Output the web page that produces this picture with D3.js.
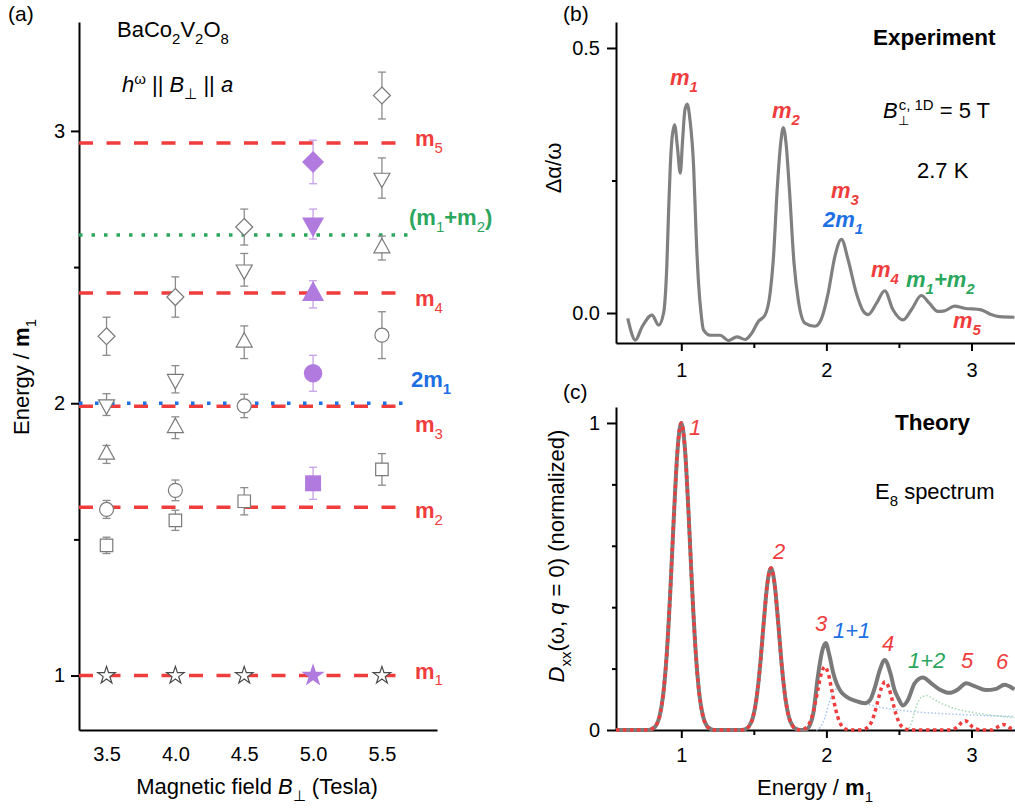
<!DOCTYPE html>
<html>
<head>
<meta charset="utf-8">
<script src="https://cdn.jsdelivr.net/npm/d3@7"></script>
<style>
body { margin: 0; background: #fff; }
svg { font-family: Arial, "Liberation Sans", sans-serif; }
</style>
</head>
<body>
<script>
// ---- panel (a): mode energies vs field ----
const fields = [3.5, 4.0, 4.5, 5.0, 5.5];
const highlightField = 5.0;
const starEnergy = [1, 1, 1, 1, 1];
const squareEnergy = [1.478, 1.57, 1.64, 1.706, 1.757];
const squareError = [0.03, 0.037, 0.05, 0.059, 0.058];
const circleEnergy = [1.61, 1.68, 1.99, 2.11, 2.25];
const circleError = [0.033, 0.038, 0.043, 0.066, 0.086];
const upEnergy = [1.812, 1.91, 2.224, 2.40, 2.57];
const upError = [0.033, 0.04, 0.06, 0.05, 0.044];
const downEnergy = [1.995, 2.088, 2.49, 2.658, 2.827];
const downError = [0.04, 0.05, 0.06, 0.055, 0.074];
const diamondEnergy = [2.246, 2.39, 2.647, 2.886, 3.13];
const diamondError = [0.07, 0.074, 0.066, 0.08, 0.086];

const modeNames = ["1", "2", "3", "4", "5"];
const modeEnergy = [1, 1.618, 1.989, 2.405, 2.956];
const twoM1Energy = 2.0;
const m1m2Energy = 2.618;
const lineEndField = 5.62;
const dotEndField = 5.7;

const fieldTicks = [3.5, 4.0, 4.5, 5.0, 5.5];
const energyTicksA = [1, 2, 3];
const energyMinorA = [1.5, 2.5];

// ---- panel (b): experiment ----
const expEnergy = [
  0.631, 0.684, 0.730, 0.798, 0.844, 0.878, 0.888, 0.900, 0.912, 0.924,
  0.935, 0.954, 0.973, 0.993, 1.009, 1.025, 1.041, 1.060, 1.085, 1.102,
  1.119, 1.136, 1.153, 1.199, 1.268, 1.325, 1.383, 1.440, 1.486, 1.531,
  1.577, 1.612, 1.634, 1.662, 1.685, 1.703, 1.722, 1.744, 1.777, 1.806,
  1.852, 1.921, 1.967, 2.012, 2.058, 2.104, 2.150, 2.207, 2.253, 2.287,
  2.345, 2.402, 2.459, 2.528, 2.586, 2.654, 2.711, 2.768, 2.814, 2.883,
  2.952, 3.067, 3.135, 3.192, 3.296];
const expSignal = [
  -0.010, -0.051, -0.026, -0.004, -0.023, 0.000, 0.025, 0.087, 0.188, 0.276,
  0.326, 0.355, 0.314, 0.264, 0.326, 0.383, 0.394, 0.364, 0.276, 0.150,
  0.056, 0.000, -0.032, -0.042, -0.042, -0.052, -0.045, -0.050, -0.038, -0.016,
  -0.004, 0.037, 0.100, 0.238, 0.320, 0.350, 0.320, 0.238, 0.094, 0.025,
  -0.019, -0.025, -0.010, 0.037, 0.106, 0.139, 0.100, 0.037, 0.004, -0.003,
  0.018, 0.042, 0.006, -0.013, 0.006, 0.033, 0.018, 0.003, 0.004, 0.013,
  0.009, 0.006, -0.003, -0.007, -0.008];
const energyTicks = [1, 2, 3];
const energyMinor = [1.5, 2.5];
const signalTicks = [0, 0.5];
const signalMinor = [0.25];

// ---- panel (c): theory ----
const totalEnergy = [
  0.55, 0.775, 0.8, 0.825, 0.85, 0.875, 0.9, 0.925, 0.95, 0.975,
  1.0, 1.025, 1.05, 1.075, 1.1, 1.125, 1.15, 1.175, 1.2, 1.225,
  1.418, 1.443, 1.468, 1.493, 1.518, 1.543, 1.568, 1.593, 1.618, 1.643,
  1.668, 1.693, 1.718, 1.743, 1.768, 1.793, 1.82, 1.86, 1.89, 1.91,
  1.94, 1.97, 1.995, 2.02, 2.045, 2.07, 2.10, 2.14, 2.20, 2.265,
  2.30, 2.335, 2.368, 2.402, 2.441, 2.47, 2.494, 2.528, 2.562, 2.608,
  2.665, 2.723, 2.78, 2.849, 2.906, 2.963, 3.021, 3.10, 3.17, 3.227,
  3.296];
const totalValue = [
  0, 0, 0.004, 0.014, 0.044, 0.114, 0.249, 0.458, 0.707, 0.917,
  1.0, 0.917, 0.707, 0.458, 0.249, 0.114, 0.044, 0.014, 0.004, 0,
  0, 0.003, 0.013, 0.04, 0.101, 0.208, 0.349, 0.476, 0.528, 0.476,
  0.349, 0.208, 0.101, 0.04, 0.013, 0.003, 0, 0.002, 0.02, 0.055,
  0.17, 0.255, 0.283, 0.245, 0.19, 0.152, 0.125, 0.108, 0.095, 0.087,
  0.097, 0.14, 0.195, 0.228, 0.185, 0.13, 0.105, 0.08, 0.098, 0.152,
  0.171, 0.152, 0.132, 0.121, 0.132, 0.152, 0.143, 0.130, 0.134, 0.147,
  0.132];
const singleEnergy = [
  0.55, 0.775, 0.8, 0.825, 0.85, 0.875, 0.9, 0.925, 0.95, 0.975,
  1.0, 1.025, 1.05, 1.075, 1.1, 1.125, 1.15, 1.175, 1.2, 1.225,
  1.418, 1.443, 1.468, 1.493, 1.518, 1.543, 1.568, 1.593, 1.618, 1.643,
  1.668, 1.693, 1.718, 1.743, 1.768, 1.793, 1.82, 1.84, 1.864, 1.889,
  1.914, 1.939, 1.964, 1.989, 2.014, 2.039, 2.064, 2.089, 2.114, 2.139,
  2.17, 2.23, 2.255, 2.28, 2.305, 2.33, 2.355, 2.38, 2.405, 2.43,
  2.455, 2.48, 2.505, 2.53, 2.555, 2.6, 2.85, 2.881, 2.906, 2.931,
  2.956, 2.981, 3.006, 3.031, 3.07, 3.143, 3.168, 3.193, 3.218, 3.243,
  3.268, 3.296];
const singleValue = [
  0, 0, 0.004, 0.014, 0.044, 0.114, 0.249, 0.458, 0.707, 0.917,
  1.0, 0.917, 0.707, 0.458, 0.249, 0.114, 0.044, 0.014, 0.004, 0,
  0, 0.003, 0.013, 0.04, 0.101, 0.208, 0.349, 0.476, 0.528, 0.476,
  0.349, 0.208, 0.101, 0.04, 0.013, 0.003, 0, 0.002, 0.009, 0.028,
  0.067, 0.125, 0.182, 0.206, 0.182, 0.125, 0.067, 0.028, 0.009, 0.002,
  0, 0, 0.002, 0.007, 0.021, 0.051, 0.095, 0.138, 0.157, 0.138,
  0.095, 0.051, 0.021, 0.007, 0.002, 0, 0, 0.004, 0.01, 0.024,
  0.03, 0.024, 0.01, 0.004, 0, 0, 0.006, 0.014, 0.018, 0.014,
  0.006, 0.003];
const pair11Energy = [1.93, 1.96, 1.99, 2.02, 2.05, 2.08, 2.12, 2.17, 2.22, 2.27, 2.35, 2.45, 2.55, 2.7, 2.9, 3.1, 3.296];
const pair11Value = [0, 0.01, 0.04, 0.09, 0.125, 0.135, 0.118, 0.103, 0.094, 0.086, 0.076, 0.068, 0.062, 0.056, 0.051, 0.047, 0.044];
const pair12Energy = [2.55, 2.58, 2.6, 2.63, 2.66, 2.69, 2.74, 2.8, 2.9, 3.0, 3.1, 3.2, 3.296];
const pair12Value = [0, 0.015, 0.045, 0.09, 0.108, 0.112, 0.1, 0.085, 0.068, 0.058, 0.05, 0.045, 0.04];
const theoryTicks = [0, 1];
const theoryMinor = [0.2, 0.4, 0.6, 0.8];

const red = "#ef3d3d", blue = "#1d6fe2", green = "#2ba65d", purple = "#b17ade", purpleLight = "#c6a0e8";

const svg = d3.select("body").append("svg").attr("width", 1015).attr("height", 810);

const xA = d3.scaleLinear().domain([3.3, 5.9]).range([79, 437]);
const yA = d3.scaleLinear().domain([0.8, 3.4]).range([730, 22]);
const xB = d3.scaleLinear().domain([0.55, 3.3]).range([616, 1015]);
const yB = d3.scaleLinear().domain([-0.0566, 0.549]).range([343, 22]);
const yC = d3.scaleLinear().domain([0, 1.052]).range([730, 407]);

// text with sub/superscripts
function rich(parent, x, y, parts, size, attrs = {}) {
  const t = parent.append("text").attr("x", x).attr("y", y).attr("font-size", size);
  Object.entries(attrs).forEach(([k, v]) => t.attr(k, v));
  let shift = 0;
  parts.forEach(p => {
    if (typeof p === "string") p = { t: p };
    const target = p.sub ? size * 0.3 : p.sup ? -size * 0.38 : 0;
    const ts = t.append("tspan").text(p.t);
    if (target !== shift) ts.attr("dy", target - shift);
    shift = target;
    if (p.sub || p.sup) ts.attr("font-size", p.fs || size * 0.68);
    if (p.w) ts.attr("font-weight", p.w);
    if (p.i) ts.attr("font-style", "italic");
    if (p.dx) ts.attr("dx", p.dx);
  });
  return t;
}

function drawAxis(g, gen, minorGen) {
  g.call(gen);
  g.attr("font-family", null).attr("font-size", 20);
  g.select(".domain").attr("stroke-width", 2);
  g.selectAll(".tick line").attr("stroke-width", 2);
  g.selectAll(".tick text").attr("fill", "#000");
  if (minorGen) {
    const m = g.append("g").call(minorGen);
    m.select(".domain").remove();
    m.selectAll(".tick line").attr("stroke-width", 2);
  }
}

// ================= panel (a) =================
const gA = svg.append("g");
drawAxis(gA.append("g").attr("transform", "translate(0,730)"),
  d3.axisBottom(xA).tickValues(fieldTicks).tickSize(0).tickPadding(17).tickFormat(d3.format(".1f")).tickSizeOuter(0));
drawAxis(gA.append("g").attr("transform", "translate(79,0)"),
  d3.axisLeft(yA).tickValues(energyTicksA).tickSize(8).tickPadding(6).tickFormat(d3.format("d")).tickSizeOuter(0),
  d3.axisLeft(yA).tickValues(energyMinorA).tickSize(5).tickFormat(() => "").tickSizeOuter(0));

// reference lines
gA.selectAll(".mode").data(modeEnergy).join("line")
  .attr("x1", xA(3.3)).attr("x2", xA(lineEndField))
  .attr("y1", d => yA(d)).attr("y2", d => yA(d))
  .attr("stroke", red).attr("stroke-width", 3.5).attr("stroke-dasharray", "14,13.5");
gA.append("line").attr("x1", xA(3.3)).attr("x2", xA(dotEndField))
  .attr("y1", yA(twoM1Energy)).attr("y2", yA(twoM1Energy))
  .attr("stroke", blue).attr("stroke-width", 3.5).attr("stroke-dasharray", "3.5,12.5");
gA.append("line").attr("x1", xA(3.3)).attr("x2", xA(dotEndField))
  .attr("y1", yA(m1m2Energy)).attr("y2", yA(m1m2Energy))
  .attr("stroke", green).attr("stroke-width", 3.5).attr("stroke-dasharray", "3.5,9");

// markers
const triDown = { draw(c, s) { c.moveTo(0, s * 0.6); c.lineTo(-s / 2, -s * 0.3); c.lineTo(s / 2, -s * 0.3); c.closePath(); } };
const triUp = { draw(c, s) { c.moveTo(0, -s * 0.6); c.lineTo(-s / 2, s * 0.3); c.lineTo(s / 2, s * 0.3); c.closePath(); } };
const diamond = { draw(c, s) { const r = s / 2; c.moveTo(0, -r); c.lineTo(r, 0); c.lineTo(0, r); c.lineTo(-r, 0); c.closePath(); } };
const shapes = {
  square: [d3.symbolSquare, 156, 256],
  circle: [d3.symbolCircle, 154, 266],
  up: [triUp, 16, 22],
  down: [triDown, 16, 22],
  diamond: [diamond, 17, 22],
  star: [d3.symbolStar, 95, 170]
};
const series = [
  { shape: "square", energy: squareEnergy, error: squareError },
  { shape: "circle", energy: circleEnergy, error: circleError },
  { shape: "up", energy: upEnergy, error: upError },
  { shape: "down", energy: downEnergy, error: downError },
  { shape: "diamond", energy: diamondEnergy, error: diamondError },
  { shape: "star", energy: starEnergy, error: null }
];
series.forEach(s => {
  const pts = fields.map((f, i) => ({ f, e: s.energy[i], err: s.error ? s.error[i] : 0, hi: f === highlightField }));
  if (s.error) {
    const eb = gA.append("g").selectAll("g").data(pts).join("g")
      .attr("stroke", d => d.hi ? purpleLight : "#8c8c8c").attr("stroke-width", 1.3);
    eb.append("line").attr("x1", d => xA(d.f)).attr("x2", d => xA(d.f))
      .attr("y1", d => yA(d.e - d.err)).attr("y2", d => yA(d.e + d.err));
    eb.append("line").attr("x1", d => xA(d.f) - 4).attr("x2", d => xA(d.f) + 4)
      .attr("y1", d => yA(d.e - d.err)).attr("y2", d => yA(d.e - d.err));
    eb.append("line").attr("x1", d => xA(d.f) - 4).attr("x2", d => xA(d.f) + 4)
      .attr("y1", d => yA(d.e + d.err)).attr("y2", d => yA(d.e + d.err));
  }
  const [type, small, big] = shapes[s.shape];
  gA.append("g").selectAll("path").data(pts).join("path")
    .attr("d", d => d3.symbol().type(type).size(d.hi ? big : small)())
    .attr("transform", d => `translate(${xA(d.f)},${yA(d.e)})`)
    .attr("fill", d => d.hi ? purple : "#fff")
    .attr("stroke", d => d.hi ? "none" : (s.shape === "star" ? "#4a4a4a" : "#7a7a7a"))
    .attr("stroke-width", 1.2);
});

// line labels
const modeLabelDy = [3, 11, 26, 13, 3];
modeEnergy.forEach((e, i) => {
  rich(gA, 415, yA(e) + modeLabelDy[i], ["m", { t: modeNames[i], sub: true, w: "normal" }], 22,
    { fill: red, "font-weight": "bold" });
});
rich(gA, 411, yA(twoM1Energy) - 16, ["2m", { t: "1", sub: true }], 22, { fill: blue, "font-weight": "bold" });
rich(gA, 409, yA(m1m2Energy) - 10, ["(m", { t: "1", sub: true, w: "normal" }, "+m", { t: "2", sub: true, w: "normal" }, ")"], 22,
  { fill: green, "font-weight": "bold" });

rich(svg, 117, 37, ["BaCo", { t: "2", sub: true }, "V", { t: "2", sub: true }, "O", { t: "8", sub: true }], 22);
rich(svg, 122, 92, [{ t: "h", i: true }, { t: "ω", sup: true }, " || ", { t: "B", i: true }, { t: "⊥", sub: true }, " || ", { t: "a", i: true }], 22);
rich(svg, 0, 0, ["Energy / ", { t: "m", w: "bold" }, { t: "1", sub: true }], 22,
  { transform: "translate(29,377) rotate(-90)", "text-anchor": "middle" });
rich(svg, 257, 794, ["Magnetic field ", { t: "B", i: true }, { t: "⊥", sub: true }, " (Tesla)"], 22, { "text-anchor": "middle" });

// ================= panel (b) =================
const gB = svg.append("g");
drawAxis(gB.append("g").attr("transform", "translate(0,343)"),
  d3.axisBottom(xB).tickValues(energyTicks).tickSize(8).tickPadding(12).tickFormat(d3.format("d")).tickSizeOuter(0),
  d3.axisBottom(xB).tickValues(energyMinor).tickSize(5).tickFormat(() => "").tickSizeOuter(0));
drawAxis(gB.append("g").attr("transform", "translate(616,0)"),
  d3.axisLeft(yB).tickValues(signalTicks).tickSize(9).tickPadding(7).tickFormat(d3.format(".1f")).tickSizeOuter(0),
  d3.axisLeft(yB).tickValues(signalMinor).tickSize(4).tickFormat(() => "").tickSizeOuter(0));

gB.append("path")
  .datum(expEnergy.map((e, i) => [e, expSignal[i]]))
  .attr("fill", "none").attr("stroke", "#808080").attr("stroke-width", 3.2)
  .attr("stroke-linejoin", "round")
  .attr("d", d3.line().x(d => xB(d[0])).y(d => yB(d[1])).curve(d3.curveMonotoneX));

const bLab = { "font-weight": "bold", "font-style": "italic" };
rich(gB, 670, 85, ["m", { t: "1", sub: true }], 22, { ...bLab, fill: red });
rich(gB, 772, 118, ["m", { t: "2", sub: true }], 22, { ...bLab, fill: red });
rich(gB, 831, 198, ["m", { t: "3", sub: true }], 22, { ...bLab, fill: red });
rich(gB, 823, 227, ["2m", { t: "1", sub: true }], 22, { ...bLab, fill: blue });
rich(gB, 871, 277, ["m", { t: "4", sub: true }], 22, { ...bLab, fill: red });
rich(gB, 906, 287, ["m", { t: "1", sub: true }, "+m", { t: "2", sub: true }], 22, { ...bLab, fill: green });
rich(gB, 953, 328, ["m", { t: "5", sub: true }], 22, { ...bLab, fill: red });

svg.append("text").attr("x", 873).attr("y", 45).attr("font-size", 22.5).attr("font-weight", "bold").text("Experiment");
rich(svg, 883, 118, [{ t: "B", i: true }, { t: "⊥", sub: true, fs: 13 }, { t: "c, 1D", sup: true, dx: -10 }, " = 5 T"], 22);
svg.append("text").attr("x", 917).attr("y", 178).attr("font-size", 22).text("2.7 K");
rich(svg, 0, 0, ["Δα/ω"], 22, { transform: "translate(561,168) rotate(-90)", "text-anchor": "middle" });

// ================= panel (c) =================
const gC = svg.append("g");
drawAxis(gC.append("g").attr("transform", "translate(0,730)"),
  d3.axisBottom(xB).tickValues(energyTicks).tickSize(8).tickPadding(10).tickFormat(d3.format("d")).tickSizeOuter(0),
  d3.axisBottom(xB).tickValues(energyMinor).tickSize(5).tickFormat(() => "").tickSizeOuter(0));
drawAxis(gC.append("g").attr("transform", "translate(616,0)"),
  d3.axisLeft(yC).tickValues(theoryTicks).tickSize(9).tickPadding(7).tickFormat(d3.format("d")).tickSizeOuter(0),
  d3.axisLeft(yC).tickValues(theoryMinor).tickSize(4).tickFormat(() => "").tickSizeOuter(0));

const lineC = d3.line().x(d => xB(d[0])).y(d => yC(d[1])).curve(d3.curveMonotoneX);
gC.append("path").datum(pair11Energy.map((e, i) => [e, pair11Value[i]]))
  .attr("fill", "none").attr("stroke", "#a9c6ee").attr("stroke-width", 1.5).attr("stroke-dasharray", "1.5,2").attr("d", lineC);
gC.append("path").datum(pair12Energy.map((e, i) => [e, pair12Value[i]]))
  .attr("fill", "none").attr("stroke", "#a6d9b4").attr("stroke-width", 1.5).attr("stroke-dasharray", "1.5,2").attr("d", lineC);
gC.append("path").datum(totalEnergy.map((e, i) => [e, totalValue[i]]))
  .attr("fill", "none").attr("stroke", "#7a7a7a").attr("stroke-width", 4).attr("stroke-linejoin", "round").attr("d", lineC);
gC.append("path").datum(singleEnergy.map((e, i) => [e, singleValue[i]]))
  .attr("fill", "none").attr("stroke", red).attr("stroke-width", 3.5).attr("stroke-dasharray", "3.5,3.5").attr("d", lineC);

const cLab = { "font-style": "italic" };
rich(gC, 689, 435, ["1"], 22, { ...cLab, fill: red });
rich(gC, 773, 559, ["2"], 22, { ...cLab, fill: red });
rich(gC, 815, 631, ["3"], 22, { ...cLab, fill: red });
rich(gC, 833, 638, ["1+1"], 22, { ...cLab, fill: blue });
rich(gC, 882, 651, ["4"], 22, { ...cLab, fill: red });
rich(gC, 908, 668, ["1+2"], 22, { ...cLab, fill: green });
rich(gC, 961, 668, ["5"], 22, { ...cLab, fill: red });
rich(gC, 996, 669, ["6"], 22, { ...cLab, fill: red });

svg.append("text").attr("x", 895).attr("y", 430).attr("font-size", 22.5).attr("font-weight", "bold").text("Theory");
rich(svg, 875, 499, ["E", { t: "8", sub: true }, " spectrum"], 22);
rich(svg, 0, 0, [{ t: "D", i: true }, { t: "xx", sub: true }, "(ω, ", { t: "q", i: true }, " = 0) (normalized)"], 22,
  { transform: "translate(564,556) rotate(-90)", "text-anchor": "middle" });
rich(svg, 815, 795, ["Energy / ", { t: "m", w: "bold" }, { t: "1", sub: true }], 22, { "text-anchor": "middle" });

// panel letters
svg.append("text").attr("x", 8).attr("y", 21).attr("font-size", 21).text("(a)");
svg.append("text").attr("x", 563).attr("y", 21).attr("font-size", 21).text("(b)");
svg.append("text").attr("x", 563).attr("y", 399).attr("font-size", 21).text("(c)");
</script>
</body>
</html>
